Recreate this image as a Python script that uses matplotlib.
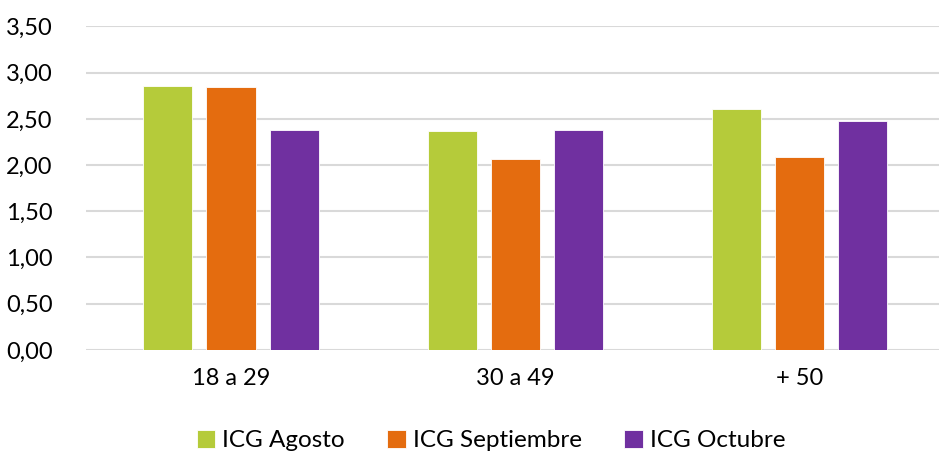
import matplotlib
matplotlib.use("Agg")
import matplotlib.pyplot as plt
import numpy as np

categories = ["18 a 29", "30 a 49", "+ 50"]
series_names = ["ICG Agosto", "ICG Septiembre", "ICG Octubre"]
agosto = [2.86, 2.37, 2.61]
septiembre = [2.84, 2.07, 2.09]
octubre = [2.38, 2.38, 2.48]
yticks = [0.0, 0.5, 1.0, 1.5, 2.0, 2.5, 3.0, 3.5]
ytick_labels = ["0,00", "0,50", "1,00", "1,50", "2,00", "2,50", "3,00", "3,50"]

colors = ["#b5cb3a", "#e46c0f", "#7030a0"]

plt.rcParams['font.family'] = ['Lato', 'DejaVu Sans']

fig = plt.figure(figsize=(9.39, 4.55), dpi=100)
ax = fig.add_axes([0.0916, 0.231, 0.9084, 0.7108])

x = np.arange(len(categories))
width = 0.173
offsets = [-0.222, 0.0, 0.222]
for vals, off, c, name in zip([agosto, septiembre, octubre], offsets, colors, series_names):
    ax.bar(x + off, vals, width, color=c, label=name, zorder=3,
           edgecolor="white", linewidth=0.6)

ax.set_xlim(-0.51, 2.49)
ax.set_ylim(0, 3.5)
ax.set_yticks(yticks)
ax.set_yticklabels(ytick_labels)
ax.set_xticks(x)
ax.set_xticklabels(categories)
ax.yaxis.grid(True, color="#d9d9d9", linewidth=1.5, zorder=0)
ax.set_axisbelow(True)
for s in ax.spines.values():
    s.set_visible(False)
ax.tick_params(axis='both', length=0, labelsize=17, colors="#000000")
ax.tick_params(axis='y', pad=24)
ax.tick_params(axis='x', pad=13)

handles, labels = ax.get_legend_handles_labels()
fig.legend(handles, labels, loc="lower center", bbox_to_anchor=(0.523, -0.04),
           ncol=3, frameon=False, fontsize=17.5, handlelength=0.75, handleheight=0.75,
           handletextpad=0.3, columnspacing=1.75)

fig.savefig("out.png", dpi=100)
